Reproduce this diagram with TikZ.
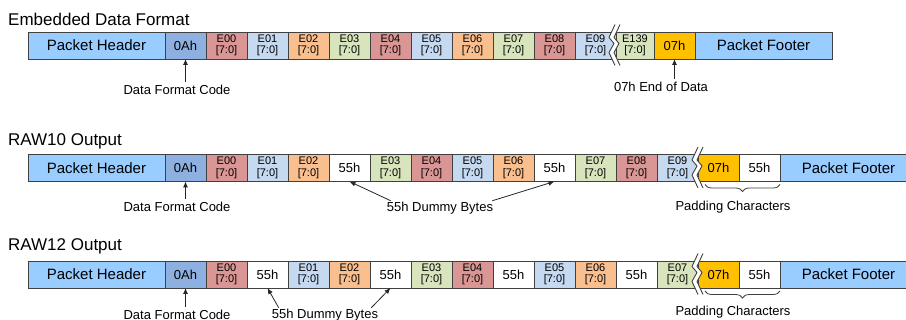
\documentclass[tikz,border=0pt]{standalone}
\usepackage{fontspec}
\setmainfont{Liberation Sans}
\usepackage{tikz}
\usetikzlibrary{arrows.meta,positioning,decorations.pathreplacing}
\definecolor{edge}{HTML}{404040}
\definecolor{hdrblue}{HTML}{99CCFF}
\definecolor{codeblue}{HTML}{8EB0E0}
\definecolor{cred}{HTML}{DA9694}
\definecolor{cblue}{HTML}{C5D9F1}
\definecolor{corg}{HTML}{FABF8F}
\definecolor{cgrn}{HTML}{D8E4BC}
\definecolor{gold}{HTML}{FFC000}
\newcommand{\ebyte}[1]{E#1\\{[7:0]}}

\begin{document}
\begin{tikzpicture}[x=1pt,y=-1pt,
  node distance=0pt,
  cell/.style={draw=edge,line width=0.9pt,minimum width=41pt,minimum height=27pt,
    inner sep=0pt,outer sep=0pt,font=\fontsize{13}{13}\selectfont},
  hdr/.style={cell,fill=hdrblue,minimum width=137pt,font=\fontsize{15}{15}\selectfont},
  code/.style={cell,fill=codeblue},
  byte/.style={cell,align=center,font=\fontsize{11}{11.5}\selectfont},
  bred/.style={byte,fill=cred},
  bblue/.style={byte,fill=cblue},
  borg/.style={byte,fill=corg},
  bgrn/.style={byte,fill=cgrn},
  dummy/.style={cell,fill=white},
  eod/.style={cell,fill=gold},
  title/.style={anchor=west,inner sep=0pt,font=\fontsize{17}{17}\selectfont},
  lbl/.style={inner sep=1pt,font=\fontsize{13}{13}\selectfont},
  arr/.style={-{Latex[length=6pt,width=5pt]},line width=0.8pt,black!85},
  brc/.style={decorate,decoration={brace,mirror,amplitude=7pt},line width=0.8pt,edge},
  brk/.pic={
    \fill[white] (3,-21)--(-3,-8)--(2,-2)--(-3,7)--(3,20)--(8,20)--(2,7)--(7,-2)--(2,-8)--(8,-21)--cycle;
    \draw[edge,line width=0.9pt,line join=round] (3,-21)--(-3,-8)--(2,-2)--(-3,7)--(3,20);
    \draw[edge,line width=0.9pt,line join=round] (8,-21)--(2,-8)--(7,-2)--(2,7)--(8,20);
  }]
\clip (0,0) rectangle (906,320);

% embedded data format
\node[title] (t1) at (8,19) {Embedded Data Format};
\node[hdr,anchor=west] (r1hdr) at (28,45.5) {Packet Header};
\node[code,right=of r1hdr] (r1code) {0Ah};
\node[bred,right=of r1code] (r1e0) {\ebyte{00}};
\node[bblue,right=of r1e0] (r1e1) {\ebyte{01}};
\node[borg,right=of r1e1] (r1e2) {\ebyte{02}};
\node[bgrn,right=of r1e2] (r1e3) {\ebyte{03}};
\node[bred,right=of r1e3] (r1e4) {\ebyte{04}};
\node[bblue,right=of r1e4] (r1e5) {\ebyte{05}};
\node[borg,right=of r1e5] (r1e6) {\ebyte{06}};
\node[bgrn,right=of r1e6] (r1e7) {\ebyte{07}};
\node[bred,right=of r1e7] (r1e8) {\ebyte{08}};
\node[bblue,right=of r1e8] (r1e9) {\ebyte{09}};
\node[bgrn,right=of r1e9,minimum width=38pt] (r1e139) {\ebyte{139}};
\node[eod,right=of r1e139] (r1eod) {07h};
\node[hdr,right=of r1eod] (r1ftr) {Packet Footer};
\pic at (612,45.5) {brk};
\node[lbl] (r1fmt) at (177,90) {Data Format Code};
\node[lbl] (r1end) at (661,87) {07h End of Data};
\draw[arr] ([yshift=2pt]r1fmt.north -| r1code.south) -- (r1code.south);
\draw[arr] ([yshift=2pt]r1end.north -| r1eod.south) -- (r1eod.south);

% raw10
\node[title] (t2) at (8,141) {RAW10 Output};
\node[hdr,anchor=west] (r2hdr) at (28,168) {Packet Header};
\node[code,right=of r2hdr] (r2code) {0Ah};
\node[bred,right=of r2code] (r2e0) {\ebyte{00}};
\node[bblue,right=of r2e0] (r2e1) {\ebyte{01}};
\node[borg,right=of r2e1] (r2e2) {\ebyte{02}};
\node[dummy,right=of r2e2] (r2d1) {55h};
\node[bgrn,right=of r2d1] (r2e3) {\ebyte{03}};
\node[bred,right=of r2e3] (r2e4) {\ebyte{04}};
\node[bblue,right=of r2e4] (r2e5) {\ebyte{05}};
\node[borg,right=of r2e5] (r2e6) {\ebyte{06}};
\node[dummy,right=of r2e6] (r2d2) {55h};
\node[bgrn,right=of r2d2] (r2e7) {\ebyte{07}};
\node[bred,right=of r2e7] (r2e8) {\ebyte{08}};
\node[bblue,right=of r2e8] (r2e9) {\ebyte{09}};
\node[eod,right=of r2e9] (r2eod) {07h};
\node[dummy,right=of r2eod] (r2pad) {55h};
\node[hdr,right=of r2pad] (r2ftr) {Packet Footer};
\pic at (695,168) {brk};
\node[lbl] (r2fmt) at (177,207) {Data Format Code};
\node[lbl] (r2dum) at (440,208) {55h Dummy Bytes};
\node[lbl] (r2padl) at (733,207) {Padding Characters};
\draw[arr] ([yshift=2pt]r2fmt.north -| r2code.south) -- (r2code.south);
\draw[arr] ([xshift=5pt]r2dum.north west) -- (r2d1.south);
\draw[arr] ([xshift=-2pt]r2dum.north east) -- (r2d2.south);
\draw[brc] ([xshift=7pt,yshift=-3pt]r2eod.south west) -- ([yshift=-3pt]r2pad.south east);

% raw12
\node[title] (t3) at (8,246) {RAW12 Output};
\node[hdr,anchor=west] (r3hdr) at (28,274.5) {Packet Header};
\node[code,right=of r3hdr] (r3code) {0Ah};
\node[bred,right=of r3code] (r3e0) {\ebyte{00}};
\node[dummy,right=of r3e0] (r3d1) {55h};
\node[bblue,right=of r3d1] (r3e1) {\ebyte{01}};
\node[borg,right=of r3e1] (r3e2) {\ebyte{02}};
\node[dummy,right=of r3e2] (r3d2) {55h};
\node[bgrn,right=of r3d2] (r3e3) {\ebyte{03}};
\node[bred,right=of r3e3] (r3e4) {\ebyte{04}};
\node[dummy,right=of r3e4] (r3d3) {55h};
\node[bblue,right=of r3d3] (r3e5) {\ebyte{05}};
\node[borg,right=of r3e5] (r3e6) {\ebyte{06}};
\node[dummy,right=of r3e6] (r3d4) {55h};
\node[bgrn,right=of r3d4] (r3e7) {\ebyte{07}};
\node[eod,right=of r3e7] (r3eod) {07h};
\node[dummy,right=of r3eod] (r3pad) {55h};
\node[hdr,right=of r3pad] (r3ftr) {Packet Footer};
\pic at (695,274.5) {brk};
\node[lbl] (r3fmt) at (177,315) {Data Format Code};
\node[lbl] (r3dum) at (325,315) {55h Dummy Bytes};
\node[lbl] (r3padl) at (733,312) {Padding Characters};
\draw[arr] ([yshift=2pt]r3fmt.north -| r3code.south) -- (r3code.south);
\draw[arr] ([xshift=8pt]r3dum.north west) -- (r3d1.south);
\draw[arr] ([xshift=-8pt]r3dum.north east) -- (r3d2.south);
\draw[brc] ([xshift=7pt,yshift=-3pt]r3eod.south west) -- ([yshift=-3pt]r3pad.south east);
\end{tikzpicture}
\end{document}
